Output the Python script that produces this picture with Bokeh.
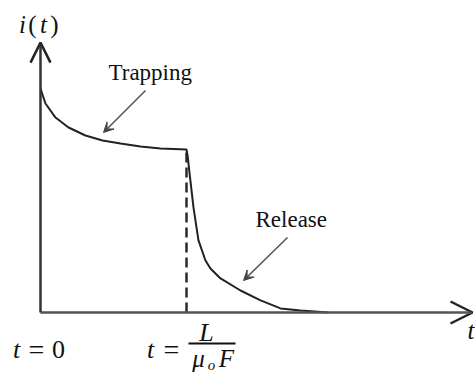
from bokeh.plotting import figure
from bokeh.models import Range1d, Arrow, OpenHead, VeeHead, Label
from bokeh.embed import file_html
from bokeh.resources import INLINE

W, H = 475, 377

# Current transient: time in units of the transit time L/(mu0 F),
# current in units of the plateau value reached just before transit.
trap_t = [0.0, 0.034, 0.103, 0.192, 0.308, 0.425, 0.548, 0.685, 0.822, 1.0]
trap_i = [1.374, 1.282, 1.196, 1.135, 1.086, 1.055, 1.037, 1.018, 1.006, 1.0]
rel_t = [1.0, 1.008, 1.021, 1.048, 1.082, 1.13, 1.164, 1.233, 1.37, 1.507, 1.644, 1.781, 1.973]
rel_i = [1.0, 0.96, 0.853, 0.644, 0.442, 0.319, 0.27, 0.209, 0.135, 0.074, 0.025, 0.012, 0.0]
transit_t = 1.0

# axis extents (arrow tips)
t_axis_end = 2.959
i_axis_end = 1.656

# pixel scale of the drawing: 146 px per transit time, 163 px per plateau current
SX, SY, X0, Y0 = 146.0, 163.0, 40.0, 312.0


def tx(px):
    return (px - X0) / SX


def iy(py):
    return (Y0 - py) / SY


p = figure(width=W, height=H, output_backend="svg", toolbar_location=None,
           x_range=Range1d(tx(0), tx(W)), y_range=Range1d(iy(H), iy(0)),
           x_axis_type=None, y_axis_type=None, min_border=0)
p.grid.visible = False
p.outline_line_color = None
p.background_fill_color = "white"
p.border_fill_color = "white"

AX = "#333333"
SERIF = "Liberation Serif"

# axes with open arrow heads
p.add_layout(Arrow(x_start=0, y_start=0, x_end=t_axis_end, y_end=0,
                   line_color="#555555", line_width=2.5,
                   end=OpenHead(size=22, line_color="#222222", line_width=2.5)))
p.add_layout(Arrow(x_start=0, y_start=0, x_end=0, y_end=i_axis_end,
                   line_color=AX, line_width=2.5,
                   end=OpenHead(size=20, line_color="#222222", line_width=2.5)))

# transit time marker
p.line([transit_t, transit_t], [0, rel_i[0]], line_color="#2a2a2a", line_width=2.5,
       line_dash="10 5")

# current curve
p.line(trap_t + rel_t[1:], trap_i + rel_i[1:], line_color="#222222", line_width=2)

# pointer arrows
for (x0, y0, x1, y1) in [(145, 90, 103, 132), (287, 237, 243, 280)]:
    p.add_layout(Arrow(x_start=tx(x0), y_start=iy(y0), x_end=tx(x1), y_end=iy(y1),
                       line_color="#555555", line_width=1.6,
                       end=VeeHead(size=10, fill_color="#444444", line_color="#444444",
                                   line_width=1)))

# the text glyphs sit a few pixels below the requested baseline; compensate
LIFT = 7


def label(text, px, py, size=24, style="normal", align="left"):
    p.add_layout(Label(x=tx(px), y=iy(py - LIFT), text=text, text_font=SERIF,
                       text_font_size=f"{size}px", text_font_style=style,
                       text_align=align, text_baseline="alphabetic",
                       text_color="#111111"))


label("Trapping", 108, 79, size=23)
label("Release", 255, 226, size=23)

# vertical axis title i(t)
label("i", 22, 31, size=25, style="italic", align="center")
label("(", 32, 31, size=25, align="center")
label("t", 43, 31, size=25, style="italic", align="center")
label(")", 54, 31, size=25, align="center")

# horizontal axis title
label("t", 467, 337, size=25, style="italic")

# t = 0
label("t", 16, 356, size=26, style="italic", align="center")
label("=", 36, 356, size=28, align="center")
label("0", 58, 356, size=26, align="center")

# t = L / (mu_o F)
label("t", 150, 356, size=26, style="italic", align="center")
label("=", 171, 356, size=28, align="center")
p.line([tx(188), tx(235)], [iy(343), iy(343)], line_color="#111111", line_width=1.8)
label("L", 206, 339, size=26, style="italic", align="center")
label("\u03bc", 198, 365, size=25, style="italic", align="center")
label("o", 211, 371, size=15, style="italic", align="center")
label("F", 226, 365, size=25, style="italic", align="center")

open("out.html", "w").write(file_html(p, INLINE))
